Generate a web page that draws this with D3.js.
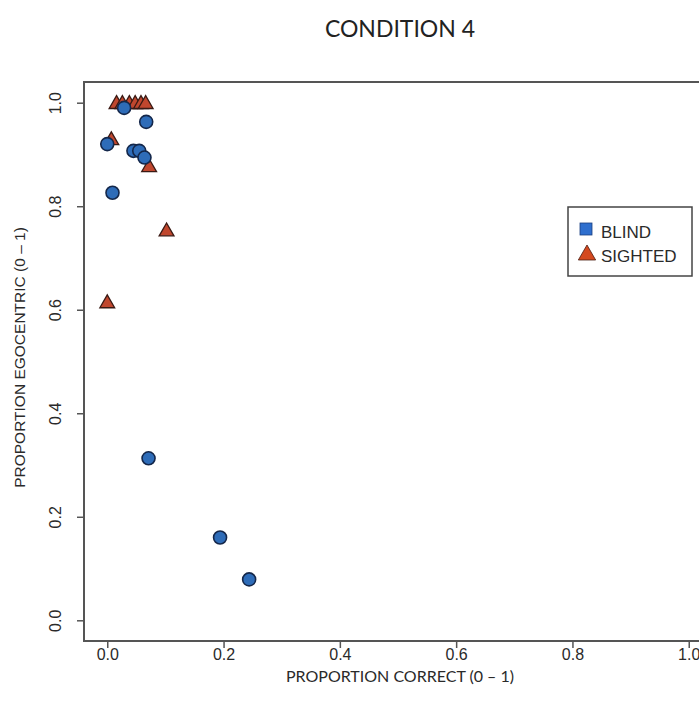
<!DOCTYPE html>
<html>
<head>
<meta charset="utf-8">
<script src="https://cdn.jsdelivr.net/npm/d3@7"></script>
<style>
  html, body { margin: 0; padding: 0; background: #fff; }
  svg { display: block; }
</style>
</head>
<body>
<svg id="chart" width="699" height="714"></svg>
<script>
// Proportion correct (x) vs proportion egocentric (y), condition 4
const blindX = [0.000, 0.029, 0.067, 0.045, 0.055, 0.064, 0.009, 0.071, 0.194, 0.244];
const blindY = [0.920, 0.990, 0.963, 0.907, 0.907, 0.894, 0.826, 0.313, 0.160, 0.079];
const sightedX = [0.016, 0.026, 0.038, 0.048, 0.058, 0.066, 0.007, 0.072, 0.102, 0.000];
const sightedY = [1.000, 1.000, 1.000, 1.000, 1.000, 1.000, 0.930, 0.878, 0.754, 0.615];
const tickValues = [0.0, 0.2, 0.4, 0.6, 0.8, 1.0];
const groups = ["BLIND", "SIGHTED"];

const svg = d3.select("#chart");
const x = d3.scaleLinear().domain([-0.04, 1.04]).range([84, 712]);
const y = d3.scaleLinear().domain([-0.04, 1.04]).range([641, 82]);
const fmt = d3.format(".1f");
const axisColor = "#555";
const textColor = "#2a2a2a";

// Title
svg.append("text")
  .attr("x", 400).attr("y", 37)
  .attr("text-anchor", "middle")
  .attr("font-family", "Lato, 'Open Sans', sans-serif")
  .attr("font-size", 23)
  .attr("fill", "#222")
  .text("CONDITION 4");

// Plot frame
svg.append("rect")
  .attr("x", x(-0.04)).attr("y", y(1.04))
  .attr("width", x(1.04) - x(-0.04)).attr("height", y(-0.04) - y(1.04))
  .attr("fill", "none").attr("stroke", axisColor).attr("stroke-width", 2);

// X axis
const xAxis = svg.append("g")
  .attr("transform", `translate(0,${y(-0.04)})`)
  .call(d3.axisBottom(x).tickValues(tickValues).tickFormat(fmt).tickSize(7).tickPadding(1));
xAxis.select(".domain").remove();
xAxis.selectAll(".tick line").attr("stroke", axisColor).attr("stroke-width", 1.5);
xAxis.selectAll(".tick text")
  .attr("font-family", "'Liberation Sans', Arial, sans-serif")
  .attr("font-size", 16).attr("fill", textColor);

// Y axis
const yAxis = svg.append("g")
  .attr("transform", `translate(${x(-0.04)},0)`)
  .call(d3.axisLeft(y).tickValues(tickValues).tickFormat(fmt).tickSize(7).tickPadding(0));
yAxis.select(".domain").remove();
yAxis.selectAll(".tick line").attr("stroke", axisColor).attr("stroke-width", 1.5);
yAxis.selectAll(".tick text")
  .attr("x", 0).attr("dy", 0)
  .attr("text-anchor", "middle")
  .attr("transform", "translate(-29,0) rotate(-90)")
  .attr("dominant-baseline", "central")
  .attr("font-family", "'Liberation Sans', Arial, sans-serif")
  .attr("font-size", 16).attr("fill", textColor);

// Axis titles
svg.append("text")
  .attr("x", 400).attr("y", 682)
  .attr("text-anchor", "middle")
  .attr("font-family", "Lato, 'Open Sans', sans-serif")
  .attr("font-size", 16)
  .attr("fill", textColor)
  .text("PROPORTION CORRECT (0 \u2013 1)");

svg.append("text")
  .attr("transform", `translate(25,${(y(1.04) + y(-0.04)) / 2 - 4}) rotate(-90)`)
  .attr("text-anchor", "middle")
  .attr("font-family", "'Liberation Sans', Arial, sans-serif")
  .attr("font-size", 15.5)
  .attr("fill", textColor)
  .text("PROPORTION EGOCENTRIC (0 \u2013 1)");

// Points
const blind = blindX.map((v, i) => ({ x: v, y: blindY[i] }));
const sighted = sightedX.map((v, i) => ({ x: v, y: sightedY[i] }));
const triangle = d3.symbol().type(d3.symbolTriangle).size(95);

svg.append("g").selectAll("path")
  .data(sighted)
  .join("path")
  .attr("d", triangle)
  .attr("transform", d => `translate(${x(d.x)},${y(d.y) + 1.5})`)
  .attr("fill", "#c0472e")
  .attr("stroke", "#3a1a14")
  .attr("stroke-width", 1.3);

svg.append("g").selectAll("circle")
  .data(blind)
  .join("circle")
  .attr("cx", d => x(d.x))
  .attr("cy", d => y(d.y))
  .attr("r", 6.5)
  .attr("fill", "#2e6cb8")
  .attr("stroke", "#14274a")
  .attr("stroke-width", 1.6);

// Legend
const lg = svg.append("g").attr("transform", "translate(568,207)");
lg.append("rect")
  .attr("width", 124).attr("height", 69)
  .attr("fill", "#fff").attr("stroke", "#444").attr("stroke-width", 1.5);
lg.append("rect")
  .attr("x", 12).attr("y", 16).attr("width", 12).attr("height", 12)
  .attr("fill", "#2f6fce").attr("stroke", "#1b3f80").attr("stroke-width", 0.8);
lg.append("path")
  .attr("d", d3.symbol().type(d3.symbolTriangle).size(130))
  .attr("transform", "translate(19,48)")
  .attr("fill", "#d4491f").attr("stroke", "#4a1c10").attr("stroke-width", 0.8);
lg.selectAll("text.lab")
  .data(groups)
  .join("text")
  .attr("class", "lab")
  .attr("x", 33)
  .attr("y", (d, i) => 31 + i * 24)
  .attr("font-family", "'Liberation Sans', Arial, sans-serif")
  .attr("font-size", 17)
  .attr("fill", textColor)
  .text(d => d);
</script>
</body>
</html>
